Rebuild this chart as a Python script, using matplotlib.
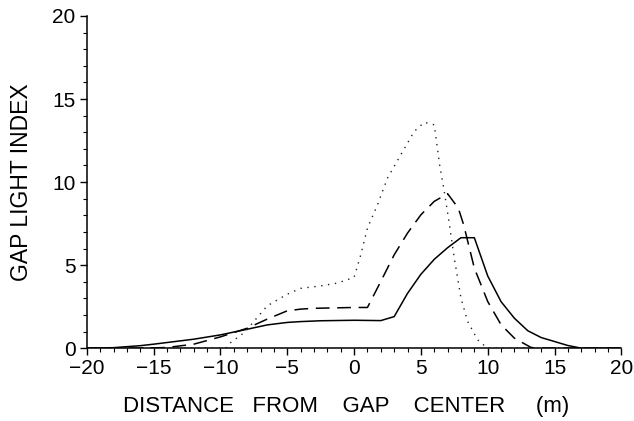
import matplotlib
matplotlib.use("Agg")
import matplotlib.pyplot as plt
from matplotlib.ticker import MultipleLocator

# Solid curve
x_solid = [-20, -18, -16, -15, -14, -12, -10, -8, -6.5, -5, -4, -2.5, 0, 2, 3, 4, 5, 6, 7, 8, 9, 10, 11, 12, 13, 14, 15, 16, 17, 20]
y_solid = [0.0, 0.03, 0.15, 0.24, 0.34, 0.54, 0.80, 1.14, 1.40, 1.55, 1.60, 1.65, 1.68, 1.66, 1.90, 3.30, 4.45, 5.35, 6.05, 6.65, 6.65, 4.35, 2.80, 1.80, 1.05, 0.64, 0.40, 0.16, 0.0, 0.0]

# Dashed curve
x_dash = [-20, -16, -14, -12, -10, -8, -6.5, -5, -4, -3, 0, 1, 2, 3, 4, 5, 6, 7, 7.8, 8.2, 9, 10, 11, 12, 13.2, 13.5, 20]
y_dash = [0.0, 0.0, 0.04, 0.24, 0.68, 1.20, 1.75, 2.25, 2.35, 2.40, 2.45, 2.45, 4.02, 5.62, 6.93, 8.03, 8.84, 9.30, 8.43, 7.43, 4.82, 2.81, 1.41, 0.60, 0.06, 0.0, 0.0]

# Dotted curve
x_dot = [-20, -9.6, -9.3, -8.2, -6.5, -5, -4, -2.5, -1.25, 0, 0.5, 1, 1.75, 2.5, 3.5, 4.5, 5.25, 6, 6.4, 6.75, 7.1, 7.5, 8, 8.5, 9.25, 9.9, 10, 20]
y_dot = [0.0, 0.0, 0.30, 0.95, 2.55, 3.25, 3.60, 3.75, 3.92, 4.26, 5.62, 7.23, 8.63, 10.24, 11.65, 13.05, 13.60, 13.45, 11.05, 9.44, 7.63, 5.42, 3.01, 1.61, 0.50, 0.05, 0.0, 0.0]

x_ticks = [-20, -15, -10, -5, 0, 5, 10, 15, 20]
y_ticks = [0, 5, 10, 15, 20]

plt.rcParams['font.family'] = ['Liberation Sans', 'DejaVu Sans']

fig = plt.figure(figsize=(6.34, 4.21), dpi=100)
ax = fig.add_axes([0.137, 0.173, 0.843, 0.789])

ax.plot(x_solid, y_solid, color='black', lw=1.1, ls='-')
ax.plot(x_dash, y_dash, color='black', lw=1.1, ls=(0, (9, 5)))
ax.plot(x_dot, y_dot, color='#222222', lw=1.0, ls=(0, (1, 4)))

ax.set_xlim(-20, 20)
ax.set_ylim(0, 20)
ax.set_xticks(x_ticks)
ax.set_yticks(y_ticks)
ax.set_xticklabels(['\u2212' + str(-t) if t < 0 else str(t) for t in x_ticks])
ax.xaxis.set_minor_locator(MultipleLocator(1))
ax.yaxis.set_minor_locator(MultipleLocator(1))
ax.tick_params(which='major', direction='out', length=5, width=1, labelsize=15, pad=3)
ax.tick_params(which='minor', direction='out', length=3, width=0.8)

for s in ['top', 'right']:
    ax.spines[s].set_visible(False)
for s in ['left', 'bottom']:
    ax.spines[s].set_linewidth(1.1)

ax.set_xlabel('DISTANCE   FROM    GAP    CENTER     (m)', fontsize=16)
ax.xaxis.set_label_coords(0.485, -0.145)
ax.set_ylabel('GAP LIGHT INDEX', fontsize=16.5, labelpad=14)

fig.savefig('out.png', dpi=100)
